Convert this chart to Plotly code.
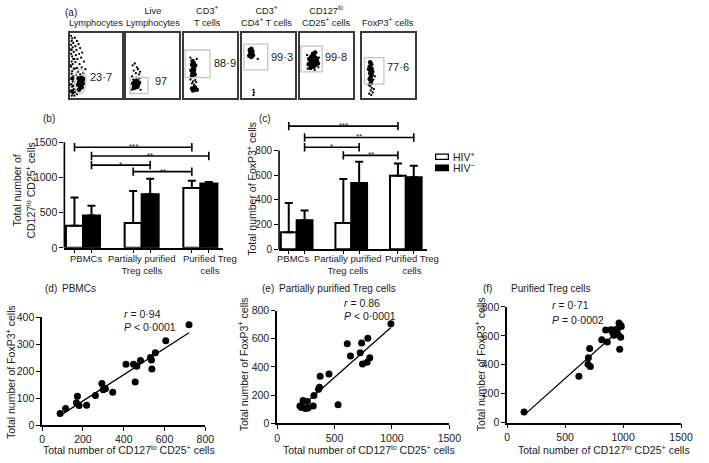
import numpy as np
import plotly.graph_objects as go

W, H = 709, 463
FONT = "Liberation Sans, Arial, Helvetica, sans-serif"

# ---------------- data ----------------
# (a) flow-cytometry gating plots (relative coordinates inside each plot, 0-100)
flow_titles = ["Lymphocytes", "Live<br>Lymphocytes", "CD3<sup>+</sup><br>T cells",
               "CD3<sup>+</sup><br>CD4<sup>+</sup> T cells", "CD127<sup>lo</sup><br>CD25<sup>+</sup> cells",
               "FoxP3<sup>+</sup> cells"]
flow_values = ["23·7", "97", "88·9", "99·3", "99·8", "77·6"]

flow1_sparse = [(3, 96), (5, 92), (4, 88), (7, 85), (3, 82), (6, 78), (4, 74), (8, 71), (3, 68), (5, 64), (7, 60),
                (4, 56), (6, 52), (3, 48), (8, 45), (5, 41), (4, 37), (7, 33), (3, 29), (6, 25), (4, 21), (5, 17),
                (8, 13), (3, 9), (6, 6), (4, 3), (10, 93), (14, 88), (11, 80), (17, 83), (13, 74), (20, 77),
                (12, 66), (18, 68), (24, 70), (15, 60), (22, 62), (11, 55), (19, 52), (27, 56), (14, 46),
                (23, 47), (30, 44), (16, 40), (26, 38), (12, 35), (20, 36), (10, 8), (14, 5), (9, 3), (12, 12),
                (2, 50), (2, 20), (2, 75), (9, 60), (10, 45), (9, 25), (7, 18)]
flow1_dense = [(17, 30), (20, 28), (23, 31), (18, 25), (21, 23), (24, 26), (16, 20), (19, 18), (22, 20),
               (25, 22), (20, 15), (23, 16), (18, 12), (26, 29), (5, 10), (6, 30)]
flow2_sparse = [(12, 50), (16, 53), (20, 47), (14, 42), (22, 44), (18, 38), (24, 36), (11, 33), (26, 40),
                (19, 31), (13, 28), (25, 30), (10, 12), (27, 12)]
flow2_dense = [(13, 22), (16, 25), (19, 23), (22, 20), (15, 18), (18, 16), (21, 17), (24, 23), (17, 20),
               (20, 26), (14, 15)]
flow3_sparse = [(12, 28), (17, 25), (21, 27), (15, 22), (19, 20), (23, 24), (13, 31), (24, 60), (12, 62)]
flow3_dense = [(16, 57), (18, 54), (15, 51), (19, 48), (17, 45), (14, 42), (18, 40), (16, 37), (20, 36),
               (15, 34), (19, 43), (21, 50), (15, 14), (18, 13), (21, 15), (24, 12), (17, 11), (20, 16)]
flow4_sparse = [(30, 60), (22, 12), (22, 4), (23, 8)]
flow4_dense = [(15, 74), (18, 76), (20, 72), (16, 69), (19, 67), (14, 65), (21, 66), (17, 71), (18, 63)]
flow5_sparse = [(14, 66), (36, 62), (35, 47), (15, 45), (28, 43)]
flow5_dense = [(18, 60), (22, 64), (26, 66), (30, 62), (20, 54), (24, 57), (28, 55), (32, 58), (22, 49),
               (26, 48), (30, 51), (17, 52), (25, 68), (29, 70), (34, 53), (20, 46), (27, 52), (23, 60)]
flow6_sparse = [(14, 18), (18, 15), (16, 11), (20, 8), (13, 6), (17, 4), (22, 13), (12, 20), (21, 28), (24, 33)]
flow6_dense = [(15, 55), (17, 52), (14, 48), (18, 45), (16, 42), (15, 38), (18, 35), (16, 32), (14, 29),
               (17, 26), (19, 40), (13, 44), (16, 22)]

# (b) and (c) bar charts
groups = ["PBMCs", "Partially purified<br>Treg cells", "Purified Treg<br>cells"]
b_hiv_pos = [313, 355, 853]
b_hiv_pos_top = [715, 807, 955]
b_hiv_neg = [461, 762, 914]
b_hiv_neg_top = [600, 983, 936]
c_hiv_pos = [137, 213, 595]
c_hiv_pos_top = [374, 568, 694]
c_hiv_neg = [234, 537, 584]
c_hiv_neg_top = [313, 708, 676]
# significance brackets: (label, (group, series), (group, series), height)
b_sig = [("***", (0, 0), (2, 0), 1431), ("**", (0, 1), (2, 1), 1306),
         ("*", (0, 1), (1, 1), 1177), ("**", (1, 0), (2, 0), 1084)]
c_sig = [("***", (0, 0), (2, 0), 997), ("**", (0, 1), (2, 1), 905),
         ("*", (0, 1), (1, 1), 826), ("**", (1, 0), (2, 0), 760)]

# (d) PBMCs
d_x = [88, 115, 168, 173, 181, 218, 261, 293, 299, 310, 346, 411, 448, 456, 464, 482, 531, 536, 538, 555, 606, 720]
d_y = [43, 62, 83, 107, 73, 74, 110, 154, 131, 135, 122, 225, 225, 160, 218, 239, 250, 241, 208, 268, 312, 371]
# (e) Partially purified Treg cells
e_x = [199, 213, 227, 247, 264, 270, 315, 321, 361, 369, 375, 452, 531, 611, 639, 724, 736, 744, 784, 790, 807, 991]
e_y = [122, 111, 161, 104, 154, 108, 122, 196, 242, 256, 334, 350, 131, 564, 477, 500, 569, 421, 433, 603, 465, 707]
# (f) Purified Treg cells
f_x = [146, 619, 712, 701, 698, 718, 816, 850, 864, 895, 909, 923, 937, 951, 965, 977, 985, 957, 979, 971, 920]
f_y = [74, 321, 512, 449, 404, 389, 573, 640, 557, 643, 627, 640, 613, 647, 690, 676, 665, 609, 591, 508, 605]

stats = [("<i>r</i> = 0·94", "<i>P</i> &lt; 0·0001"),
         ("<i>r</i> = 0.86", "<i>P</i> &lt; 0·0001"),
         ("<i>r</i> = 0·71", "<i>P</i> = 0·0002")]
scatter_titles = ["PBMCs", "Partially purified Treg cells", "Purified Treg cells"]


# ---------------- helpers ----------------
def PX(p):
    return p / W


def PY(p):
    return 1 - p / H


fig = go.Figure()
layout = dict(width=W, height=H, margin=dict(l=0, r=0, t=0, b=0),
              paper_bgcolor="white", plot_bgcolor="rgba(0,0,0,0)", showlegend=False,
              font=dict(family=FONT, color="#1a1a1a", size=10),
              barmode="group", bargap=0.42, bargroupgap=0)
shapes, annos = [], []


def ax_name(i, letter):
    return f"{letter}axis" + ("" if i == 1 else str(i))


def ref(i, letter):
    return letter + ("" if i == 1 else str(i))


# ---------------- (a) flow plots ----------------
flow_boxes = [(68, 122), (126, 180), (185, 239), (244, 298), (303, 358), (367, 421)]
flow_sparse = [flow1_sparse, flow2_sparse, flow3_sparse, flow4_sparse, flow5_sparse, flow6_sparse]
flow_dense = [flow1_dense, flow2_dense, flow3_dense, flow4_dense, flow5_dense, flow6_dense]
flow_gates = [("circle", 9, 6, 31, 44), ("rect", 7, 6, 41, 31), ("rect", 2, 31, 49, 74),
              ("rect", 4, 43, 49, 83), ("rect", 2.4, 40, 42, 80), ("rect", 4.3, 21, 41, 62)]
flow_label_pos = [(34, 32), (50, 26), (52, 54), (52, 63), (44, 63), (44, 47)]
flow_title_x = [95, 153, 209, 269, 331, 393]
for i, (x0, x1) in enumerate(flow_boxes):
    k = i + 1
    layout[ax_name(k, "x")] = dict(domain=[PX(x0), PX(x1)], range=[0, 100], anchor=ref(k, "y"),
                                   showline=True, mirror=True, linecolor="#3a3a3a", linewidth=1.6,
                                   showticklabels=False, ticks="", showgrid=False, zeroline=False)
    layout[ax_name(k, "y")] = dict(domain=[PY(94), PY(28)], range=[0, 100], anchor=ref(k, "x"),
                                   showline=True, mirror=True, linecolor="#3a3a3a", linewidth=1.6,
                                   showticklabels=False, ticks="", showgrid=False, zeroline=False)
    sp, dn = flow_sparse[i], flow_dense[i]
    fig.add_trace(go.Scatter(x=[p[0] for p in sp], y=[p[1] for p in sp], mode="markers",
                             marker=dict(size=2.3, color="black"), xaxis=ref(k, "x"), yaxis=ref(k, "y")))
    fig.add_trace(go.Scatter(x=[p[0] for p in dn], y=[p[1] for p in dn], mode="markers",
                             marker=dict(size=4.5, color="black"), xaxis=ref(k, "x"), yaxis=ref(k, "y")))
    gt, gx0, gy0, gx1, gy1 = flow_gates[i]
    shapes.append(dict(type=gt, xref=ref(k, "x"), yref=ref(k, "y"), x0=gx0, y0=gy0, x1=gx1, y1=gy1,
                       line=dict(color="#c4c4c4", width=1.3)))
    lx, ly = flow_label_pos[i]
    annos.append(dict(x=lx, y=ly, xref=ref(k, "x"), yref=ref(k, "y"), text=flow_values[i], showarrow=False,
                      xanchor="left", yanchor="middle", font=dict(size=11)))
    annos.append(dict(x=PX(flow_title_x[i]), y=PY(25), xref="paper", yref="paper", text=flow_titles[i],
                      showarrow=False, xanchor="center", yanchor="bottom", font=dict(size=9.2)))

annos.append(dict(x=PX(61), y=PY(7), xref="paper", yref="paper", text="(a)", showarrow=False,
                  xanchor="left", yanchor="middle", font=dict(size=10)))


# ---------------- (b), (c) bar charts ----------------
def bar_center(g, s):
    return g + (-0.145 if s == 0 else 0.145)


def bar_panel(k, xdom, y0px, yref_px, yref_val, top_px, xr, pos, pos_top, neg, neg_top, sig, tickvals,
              label_x, tfs):
    scale = (y0px - yref_px) / yref_val
    ytop = (y0px - top_px) / scale
    layout[ax_name(k, "x")] = dict(domain=[PX(xdom[0]), PX(xdom[1])], range=xr, anchor=ref(k, "y"),
                                   showline=True, linecolor="black", linewidth=1.6, showgrid=False,
                                   zeroline=False, tickvals=[bar_center(g, s) for g in range(3) for s in (0, 1)],
                                   showticklabels=False, ticks="outside", ticklen=3, tickwidth=1, tickcolor="black")
    layout[ax_name(k, "y")] = dict(domain=[PY(y0px), PY(top_px)], range=[0, ytop], anchor=ref(k, "x"),
                                   showline=False, showgrid=False, zeroline=False, tickvals=tickvals,
                                   ticks="outside", ticklen=4, tickwidth=1.4, tickcolor="black",
                                   tickfont=dict(size=tfs))
    shapes.append(dict(type="line", xref=ref(k, "x") + " domain", yref=ref(k, "y"), x0=0, x1=0,
                       y0=0, y1=tickvals[-1], line=dict(color="black", width=1.6)))
    xs = [0, 1, 2]
    fig.add_trace(go.Bar(x=xs, y=pos, name="HIV+", xaxis=ref(k, "x"), yaxis=ref(k, "y"),
                         marker=dict(color="white", line=dict(color="black", width=2)),
                         error_y=dict(type="data", symmetric=False, array=[t - v for t, v in zip(pos_top, pos)],
                                      arrayminus=[0, 0, 0], color="black", thickness=2, width=4)))
    fig.add_trace(go.Bar(x=xs, y=neg, name="HIV-", xaxis=ref(k, "x"), yaxis=ref(k, "y"),
                         marker=dict(color="black", line=dict(color="black", width=2)),
                         error_y=dict(type="data", symmetric=False, array=[t - v for t, v in zip(neg_top, neg)],
                                      arrayminus=[0, 0, 0], color="black", thickness=2, width=4)))
    for lab, a, b, yv in sig:
        xa, xb = bar_center(*a), bar_center(*b)
        fig.add_trace(go.Scatter(x=[xa, xb], y=[yv, yv], mode="lines+markers", xaxis=ref(k, "x"),
                                 yaxis=ref(k, "y"), line=dict(color="black", width=1.6),
                                 marker=dict(symbol="line-ns", size=6, line=dict(color="black", width=1.6))))
        annos.append(dict(x=(xa + xb) / 2, y=yv, xref=ref(k, "x"), yref=ref(k, "y"), text=lab,
                          showarrow=False, xanchor="center", yanchor="bottom", yshift=-6,
                          font=dict(size=8)))
    for g, lx in enumerate(label_x):
        annos.append(dict(x=lx, y=PY(252), xref=ref(k, "x"), yref="paper", text=groups[g], showarrow=False,
                          xanchor="center", yanchor="top", align="center", font=dict(size=9.5)))


bar_panel(7, (62.7, 225), 248.3, 140, 1500, 122, [-0.317, 2.39], b_hiv_pos, b_hiv_pos_top,
          b_hiv_neg, b_hiv_neg_top, b_sig, [0, 500, 1000, 1500], [0.055, 1.0, 2.17], 10.5)
bar_panel(8, (282, 433), 249.7, 148.3, 800, 112, [-0.323, 2.385], c_hiv_pos, c_hiv_pos_top,
          c_hiv_neg, c_hiv_neg_top, c_sig, [0, 200, 400, 600, 800], [-0.07, 0.94, 2.12], 10)

annos.append(dict(x=PX(39), y=PY(115), xref="paper", yref="paper", text="(b)", showarrow=False,
                  xanchor="left", yanchor="middle", font=dict(size=10)))
annos.append(dict(x=PX(259), y=PY(115), xref="paper", yref="paper", text="(c)", showarrow=False,
                  xanchor="left", yanchor="middle", font=dict(size=10)))
annos.append(dict(x=PX(22), y=PY(190), xref="paper", yref="paper",
                  text="Total number of<br>CD127<sup>lo</sup> CD25<sup>+</sup> cells", showarrow=False,
                  textangle=-90, xanchor="center", yanchor="middle", font=dict(size=10.5)))
annos.append(dict(x=PX(253), y=PY(188), xref="paper", yref="paper",
                  text="Total number of FoxP3<sup>+</sup> cells", showarrow=False,
                  textangle=-90, xanchor="center", yanchor="middle", font=dict(size=10.5)))

# manual legend
shapes.append(dict(type="rect", xref="paper", yref="paper", x0=PX(442), x1=PX(455), y0=PY(157.5), y1=PY(152),
                   fillcolor="white", line=dict(color="black", width=1.3)))
shapes.append(dict(type="rect", xref="paper", yref="paper", x0=PX(442), x1=PX(455), y0=PY(169), y1=PY(163.5),
                   fillcolor="black", line=dict(color="black", width=1.3)))
annos.append(dict(x=PX(458), y=PY(155), xref="paper", yref="paper", text="HIV<sup>+</sup>", showarrow=False,
                  xanchor="left", yanchor="middle", font=dict(size=10.5)))
annos.append(dict(x=PX(458), y=PY(166), xref="paper", yref="paper", text="HIV<sup>−</sup>", showarrow=False,
                  xanchor="left", yanchor="middle", font=dict(size=10.5)))

# ---------------- (d), (e), (f) scatter ----------------
scat = [
    (9, d_x, d_y, (40, 206.7), (319.3, 430.3), [0, 800], [0, 400], [0, 200, 400, 600, 800], [0, 100, 200, 300, 400]),
    (10, e_x, e_y, (280, 456), (312.7, 428.3), [0, 1500], [0, 800], [0, 500, 1000, 1500], [0, 200, 400, 600, 800]),
    (11, f_x, f_y, (515, 692.7), (309, 427.7), [0, 1500], [0, 800], [0, 500, 1000, 1500], [0, 200, 400, 600, 800]),
]
stat_pos = [(121.7, 316.7, 329.3), (346.7, 305, 318.3), (559.3, 306.7, 322.3)]
xtitle_x = [129, 374, 614]
ytitle_x = [7, 245, 487]
ytitle_y = [376, 368, 368]
panel_lab = [("(d)", 41, 58), ("(e)", 263, 280), ("(f)", 488, 517)]
for j, (k, xs, ys, xd, yd, xr, yr, xt, yt) in enumerate(scat):
    common = dict(showline=True, linecolor="black", linewidth=1.5, showgrid=False, zeroline=False,
                  ticks="outside", ticklen=4, tickwidth=1.4, tickcolor="black", tickfont=dict(size=10.5))
    layout[ax_name(k, "x")] = dict(domain=[PX(xd[0]), PX(xd[1])], range=xr, tickvals=xt, anchor=ref(k, "y"), **common)
    layout[ax_name(k, "y")] = dict(domain=[PY(yd[1]), PY(yd[0])], range=yr, tickvals=yt, anchor=ref(k, "x"), **common)
    fig.add_trace(go.Scatter(x=xs, y=ys, mode="markers", marker=dict(size=7, color="black"),
                             xaxis=ref(k, "x"), yaxis=ref(k, "y")))
    slope, icpt = np.polyfit(xs, ys, 1)
    lx = np.array([min(xs), max(xs)], dtype=float)
    fig.add_trace(go.Scatter(x=lx, y=slope * lx + icpt, mode="lines", line=dict(color="black", width=1.3),
                             xaxis=ref(k, "x"), yaxis=ref(k, "y")))
    sx, sy1, sy2 = stat_pos[j]
    annos.append(dict(x=PX(sx), y=PY(sy1), xref="paper", yref="paper", text=stats[j][0], showarrow=False,
                      xanchor="left", yanchor="middle", font=dict(size=10.5)))
    annos.append(dict(x=PX(sx), y=PY(sy2), xref="paper", yref="paper", text=stats[j][1], showarrow=False,
                      xanchor="left", yanchor="middle", font=dict(size=10.5)))
    annos.append(dict(x=PX(xtitle_x[j]), y=PY(455), xref="paper", yref="paper",
                      text="Total number of CD127<sup>lo</sup> CD25<sup>+</sup> cells", showarrow=False,
                      xanchor="center", yanchor="middle", font=dict(size=10.5)))
    annos.append(dict(x=PX(ytitle_x[j]), y=PY(ytitle_y[j]), xref="paper", yref="paper",
                      text="Total number of FoxP3<sup>+</sup> cells", showarrow=False, textangle=-90,
                      xanchor="center", yanchor="middle", font=dict(size=10.5)))
    pl, px0, px1 = panel_lab[j]
    annos.append(dict(x=PX(px0), y=PY(290), xref="paper", yref="paper", text=pl, showarrow=False,
                      xanchor="left", yanchor="middle", font=dict(size=10)))
    annos.append(dict(x=PX(px1), y=PY(290), xref="paper", yref="paper", text=scatter_titles[j],
                      showarrow=False, xanchor="left", yanchor="middle", font=dict(size=10)))

layout["shapes"] = shapes
layout["annotations"] = annos
fig.update_layout(**layout)
fig.write_html("out.html", config={"displayModeBar": False},
               post_script="document.body.style.margin='0px';document.body.style.overflow='hidden';")
